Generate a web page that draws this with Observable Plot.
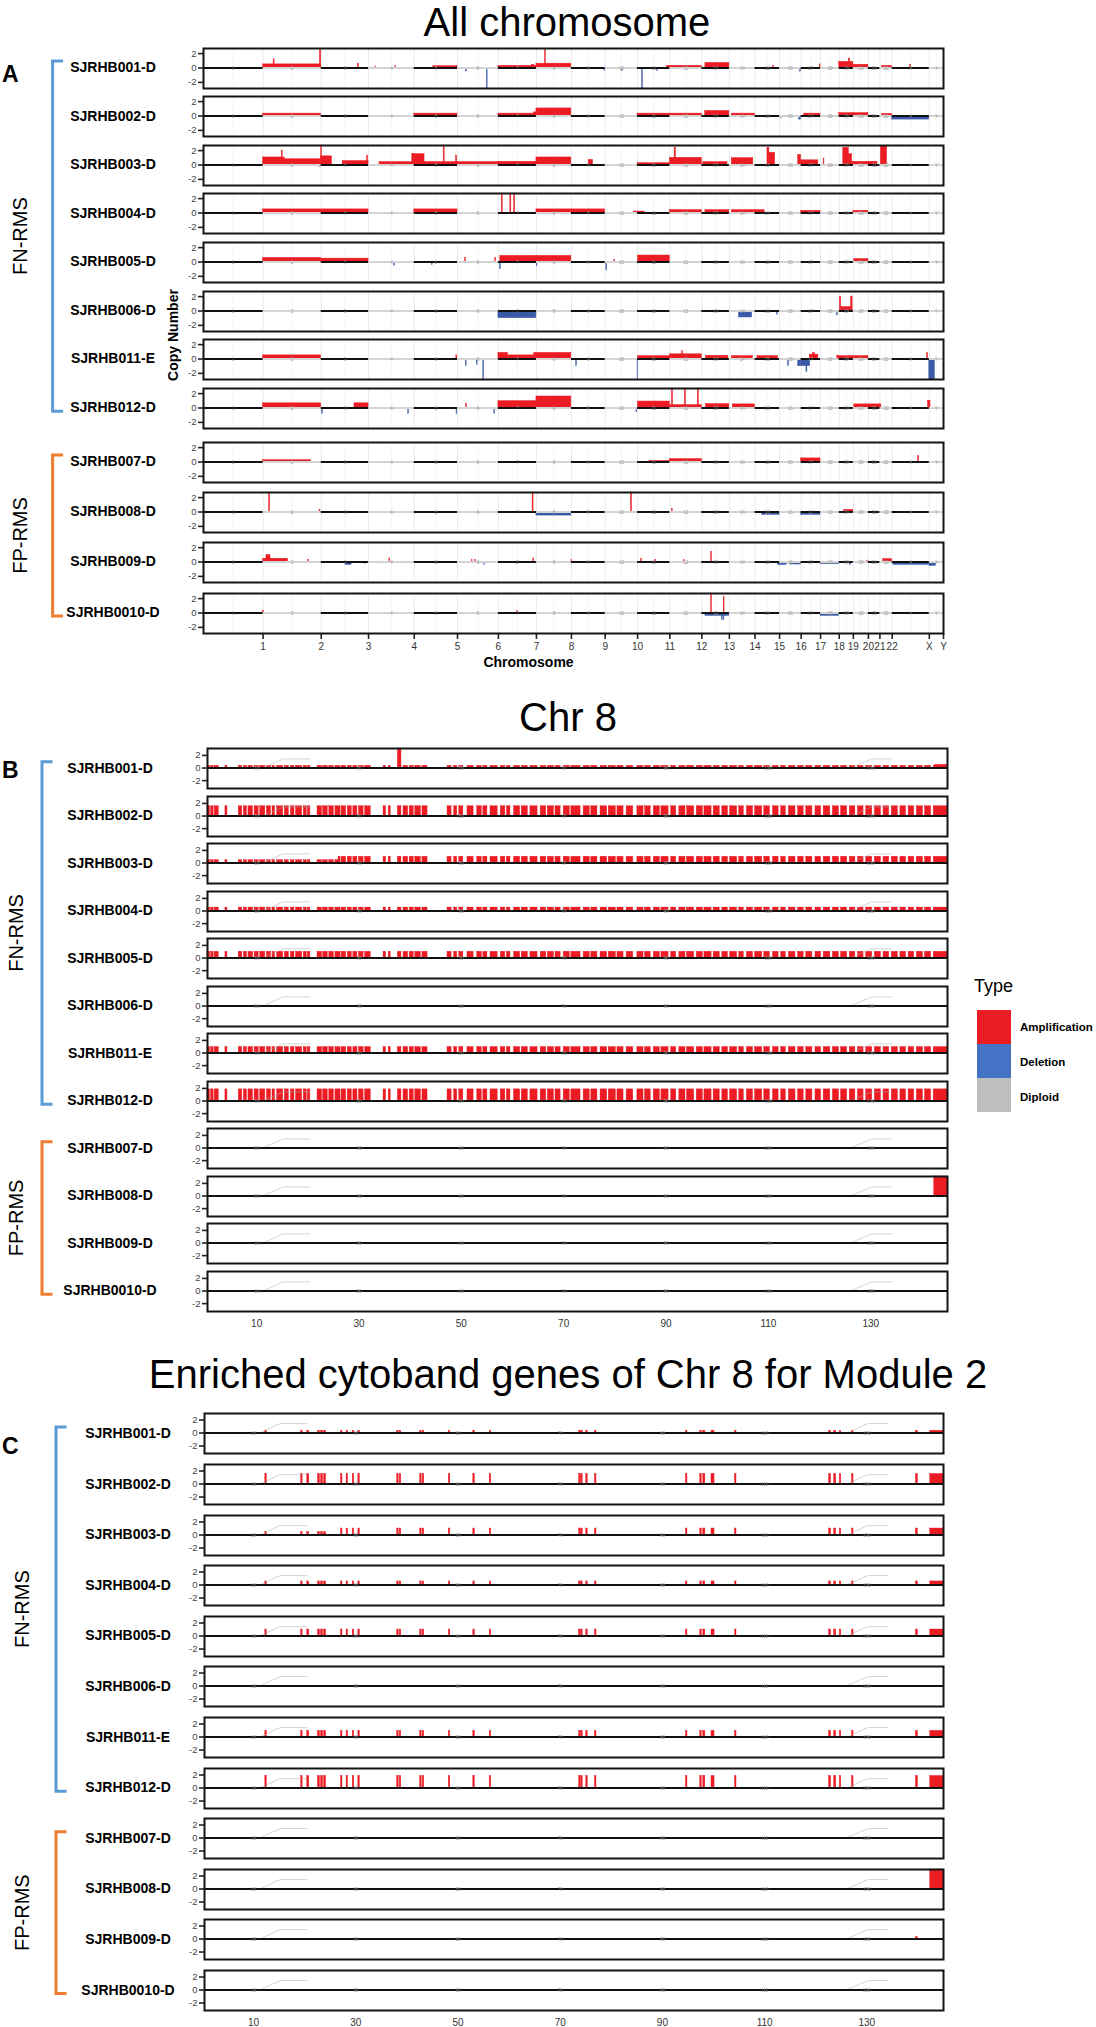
<!DOCTYPE html>
<html>
<head>
<meta charset="utf-8">
<script src="https://cdn.jsdelivr.net/npm/d3@7"></script>
<script src="https://cdn.jsdelivr.net/npm/@observablehq/plot@0.6"></script>
<style>
  html, body { margin: 0; padding: 0; background: #fff; }
  #page { position: relative; width: 1096px; height: 2027px; overflow: hidden; background: #fff;
          font-family: "Liberation Sans", Arial, Helvetica, sans-serif; color: #000; }
  #page svg { position: absolute; }
</style>
</head>
<body>
<div id="page"></div>
<script>
// ===================== DATA =====================
const chromosomes = ["1","2","3","4","5","6","7","8","9","10","11","12","13","14","15","16","17","18","19","20","21","22","X","Y"];
const chrLengthsMb = [249.3,243.2,198.0,191.2,180.9,171.1,159.1,146.4,141.2,135.5,135.0,133.9,115.2,107.3,102.5,90.4,81.2,78.1,59.1,63.0,48.1,51.3,155.3,59.4];

const samples = ["SJRHB001-D","SJRHB002-D","SJRHB003-D","SJRHB004-D","SJRHB005-D","SJRHB006-D","SJRHB011-E","SJRHB012-D","SJRHB007-D","SJRHB008-D","SJRHB009-D","SJRHB0010-D"];
const groupNames = ["FN-RMS","FP-RMS"];

const typeNames = ["Amplification","Deletion","Diploid"];
const typeColors = ["#ec1c24","#4472c4","#bebebe"];

// Panel A: whole-genome copy-number segments [chromosome, start Mb, end Mb, copy number]
const a001 = [["2",0,243,0.5],["2",44,48,1.2],["2",238,243,2.9],["3",153,157,0.6],["4",28,31,0.2],["4",112,115,0.25],["5",80,181,0.25],["6",36,39,-0.5],["6",123,126,-2.9],["7",0,159,0.3],["7",140,150,0.45],["8",0,146,0.6],["8",36,39,2.9],["9",138,141,-0.4],["10",70,73,-0.4],["11",19,22,-2.9],["11",82,85,-0.4],["11",123,135,0.3],["12",0,134,0.3],["13",15,115,0.7],["15",76,79,0.3],["16",86,89,-0.5],["17",78,81,0.5],["19",0,59,0.85],["19",40,46,1.3],["20",0,63,0.45],["22",10,51,0.3],["X",75,78,0.4]];
const a002 = [["2",0,243,0.33],["5",0,181,0.33],["7",0,159,0.33],["7",148,159,0.5],["8",0,146,1.05],["11",0,135,0.33],["12",0,134,0.33],["13",14,115,0.7],["14",10,107,0.33],["16",6,9,-0.3],["16",82,90,-0.5],["17",13,81,0.33],["19",0,59,0.4],["20",0,63,0.4],["22",10,51,0.3],["X",0,155,-0.5]];
const a003 = [["2",0,90,1.05],["2",78,82,2.0],["2",90,243,0.8],["2",238,241,-0.3],["3",0,3,2.9],["3",0,45,1.2],["3",90,198,0.55],["3",192,196,1.3],["4",46,183,0.4],["4",183,191,1.5],["5",0,43,1.5],["5",43,181,0.4],["5",123,127,2.9],["5",175,179,1.3],["6",0,171,0.4],["7",0,159,0.45],["8",0,146,1.05],["9",72,90,0.7],["11",0,135,0.25],["12",0,134,1.0],["12",20,25,2.4],["13",6,107,0.4],["14",10,100,0.95],["15",52,60,2.4],["15",60,84,1.7],["16",78,90,1.4],["17",0,72,0.65],["18",13,16,0.9],["19",17,40,2.4],["19",40,54,1.5],["19",54,59,0.45],["20",0,63,0.45],["21",0,38,0.45],["22",4,30,2.6]];
const a004 = [["2",0,243,0.5],["3",0,198,0.5],["5",0,181,0.5],["7",14,18,2.9],["7",50,54,2.9],["7",66,70,2.9],["8",0,146,0.5],["9",0,141,0.5],["10",120,135,0.2],["11",0,30,0.2],["12",0,134,0.4],["13",15,115,0.4],["14",10,107,0.4],["15",0,40,0.4],["17",0,81,0.3],["20",0,63,0.3]];
const a005 = [["2",0,243,0.56],["3",0,198,0.47],["4",107,110,-0.5],["5",74,77,-0.4],["6",32,35,0.6],["6",158,161,0.6],["7",7,10,-1.0],["7",8,159,0.85],["8",0,146,0.85],["8",1,4,-0.6],["10",5,8,-1.2],["10",38,41,0.3],["11",2,135,0.9],["20",4,63,0.4]];
const a006 = [["7",0,159,-1.0],["14",40,95,-0.9],["15",92,95,-0.5],["18",69,72,-0.6],["19",3,8,2.0],["19",8,50,0.55],["19",50,56,2.0]];
const a011 = [["2",0,243,0.5],["5",176,180,0.5],["6",35,38,-1.0],["6",81,84,-0.8],["6",108,111,-2.9],["7",0,40,0.85],["7",40,150,0.5],["7",150,159,0.85],["8",0,146,0.85],["9",20,23,-1.0],["11",0,2,-2.9],["11",2,135,0.4],["12",0,134,0.65],["12",52,55,1.1],["13",17,111,0.45],["14",10,99,0.4],["15",10,96,0.4],["16",36,39,-1.0],["16",78,90,-1.0],["17",0,38,-1.0],["17",22,26,-1.8],["17",36,72,0.6],["17",50,58,0.8],["18",70,78,0.4],["19",0,59,0.4],["20",0,63,0.4],["X",146,150,0.8],["Y",0,23,-2.9]];
const a012 = [["2",0,243,0.65],["3",4,7,-0.8],["3",139,198,0.65],["4",166,169,-0.8],["5",177,180,-0.8],["6",36,39,0.6],["6",154,157,-0.8],["7",0,159,0.95],["8",0,146,1.6],["10",131,134,-0.6],["11",2,135,0.9],["12",0,134,0.4],["12",9,13,2.9],["12",63,67,2.9],["12",117,121,2.9],["13",17,115,0.55],["14",14,107,0.5],["20",4,63,0.5],["21",0,48,0.5],["22",0,6,0.5],["X",150,155,1.0],["Y",0,5,1.0]];
const a007 = [["2",0,200,0.25],["11",50,135,0.15],["12",0,134,0.4],["17",0,81,0.5],["X",108,112,0.8]];
const a008 = [["2",25,29,2.9],["2",236,240,0.3],["7",143,147,2.9],["8",0,146,-0.5],["10",108,112,2.9],["12",9,12,0.4],["15",30,103,-0.4],["17",0,81,-0.4],["19",20,59,0.3]];
const a009 = [["2",0,104,0.45],["2",14,31,0.95],["2",188,191,0.3],["3",101,127,-0.4],["3",182,185,-0.3],["4",44,47,-0.2],["4",87,90,0.5],["4",154,157,-0.2],["6",60,63,0.3],["6",74,77,0.3],["6",112,115,-0.4],["7",79,82,-0.3],["7",146,149,0.5],["9",0,2,0.3],["11",15,18,0.4],["11",74,77,0.3],["12",58,61,0.3],["13",39,42,1.4],["15",96,103,-0.4],["16",0,30,-0.4],["16",45,90,-0.35],["18",0,78,-0.3],["19",46,49,-0.4],["20",57,60,0.2],["22",14,51,0.4],["X",5,155,-0.4],["Y",0,28,-0.55]];
const a0010 = [["2",0,3,0.3],["7",79,82,0.3],["13",15,115,-0.4],["13",84,87,-1.0],["13",91,94,-1.0],["13",39,42,2.9],["13",92,95,2.2],["18",0,78,-0.4]];

// Panel B: chromosome 8 gene intervals [start Mb, end Mb]
const chr8Genes = [[0.4,0.9],[1.1,1.6],[1.8,2.6],[3.9,4.3],[6.5,7.2],[7.5,8.1],[8.4,9.3],[9.6,10.4],[10.7,11.7],
  [12,12.8],[13.1,13.6],[14,15.2],[15.5,16.3],[16.7,17.4],[17.7,18.9],[19.2,19.8],[20,20.5],
  [21.9,22.8],[23,23.9],[24.2,25.1],[25.4,26.4],[26.6,27.5],[27.8,28.6],[28.9,29.7],[30,30.9],[31.2,32.3],
  [34.8,35.3],[35.8,36.2],[37.6,38.3],[38.7,39.6],[39.9,40.7],[41,42.1],[42.4,43.4],
  [47.3,48.1],[48.6,49.2],[49.6,50.4],[51.2,52.4],[53.1,54],[54.3,55.1],[55.7,57.1],[57.7,58.6],[58.9,59.6],
  [60.3,61.5],[61.8,63],[63.5,64.9],[65.5,66.6],[66.9,68.1],[68.4,69.4],[70,71.2],[71.5,73.3],[73.9,75.1],
  [75.4,76.6],[77.2,78.5],[78.8,80.2],[80.5,81.7],[82.3,83.6],[84.4,85.6],[85.9,87],
  [87.6,88.8],[89.1,90.5],[91,92],[92.6,93.8],[94.1,95.5],[96,97.2],[97.5,98.9],[99.3,100.5],[101,102.1],
  [102.5,103.9],[104.3,105.2],[105.8,107],[107.4,108.8],[109.2,110.3],[110.9,112],[112.5,113.4],[114,115.3],
  [115.8,116.9],[117.4,118.6],[119.2,120.3],[120.8,122.1],[122.6,123.8],[124.2,125.4],[125.9,127],[127.5,128.6],
  [129.1,130.3],[130.8,132],[132.5,133.6],[134.1,135.3],[135.8,136.9],[137.4,138.5],[139,140.2],[140.6,141.8],[142.3,145]];
// per-sample chr8 copy-number segments [start Mb, end Mb, copy number]
const b001 = [[0,146,0.35],[37.6,38.3,3.2],[142.5,145,0.5]];
const b002 = [[0,146,1.55]];
const b003 = [[0,26,0.45],[26,146,1.0]];
const b004 = [[0,146,0.55]];
const b005 = [[0,146,1.0]];
const b006 = [];
const b011 = [[0,146,0.95]];
const b012 = [[0,146,1.85]];
const b007 = [];
const b008 = [[142.4,145,3.2]];
const b009 = [];
const b0010 = [];

// Panel C: enriched cytoband genes of chr8 (module 2)
const module2Genes = [[12.3,12.6],[19.3,19.6],[20.5,20.9],[22.6,23.0],[23.2,23.6],[23.8,24.2],[27.1,27.4],[28.2,28.5],[29.4,29.7],[30.5,30.8],[38.1,38.4],[38.6,38.9],[42.6,42.9],[43.1,43.4],[48.2,48.5],[53,53.3],[56.2,56.5],[73.7,74.0],[74.1,74.4],[75.1,75.4],[76.8,77.1],[94.6,94.9],[97.4,97.7],[98.0,98.4],[99.6,100.2],[104.2,104.5],[122.6,123],[123.6,124],[124.7,125],[127.1,127.4],[139.6,140],[142.4,145]];
const c001 = [[0,146,0.35]];
const c002 = [[0,146,1.55]];
const c003 = [[0,26,0.45],[26,146,1.0]];
const c004 = [[0,146,0.55]];
const c005 = [[0,146,1.0]];
const c006 = [];
const c011 = [[0,146,0.95]];
const c012 = [[0,146,1.85]];
const c007 = [];
const c008 = [[142.4,145,3.1]];
const c009 = [[139.6,140,0.3]];
const c0010 = [];

const chr8Ticks = [10,30,50,70,90,110,130];
// callout leader lines of the chr8 gene annotations [x from, y from, x to, y to]
const chr8Callouts = [[11.6,0.15,15.2,1.45],[15.2,1.45,20.5,1.45],[126.4,0.15,130.2,1.45],[130.2,1.45,134.2,1.45]];

// ===================== BUILD =====================
const FONT = '"Liberation Sans", Arial, Helvetica, sans-serif';
const RED = "#ec1c24", BLUE = "#3a5aa8";
const page = document.getElementById("page");

const segA = [a001,a002,a003,a004,a005,a006,a011,a012,a007,a008,a009,a0010];
const segB = [b001,b002,b003,b004,b005,b006,b011,b012,b007,b008,b009,b0010];
const segC = [c001,c002,c003,c004,c005,c006,c011,c012,c007,c008,c009,c0010];

const chrStart = {};
const chrTable = [];
let acc = 0;
chromosomes.forEach((c, i) => { chrStart[c] = acc; chrTable.push({chr: c, i, x1: acc, x2: acc + chrLengthsMb[i], mid: acc + chrLengthsMb[i] / 2}); acc += chrLengthsMb[i]; });
const genomeLen = acc;
const chrEnds = chrTable.map(d => d.x2);
const chrLabelAt = new Map(chrTable.map(d => [d.x2, d.chr]));
const chrMinor = chrTable.map((d, i) => i === 0 ? d.x2 / 2 : (chrTable[i-1].x2 + d.x2) / 2);

// layout (pixels)
const aZero = [67,115.5,164,212.5,261,310,358,407.3,461,511,561,612];
const bZero = samples.map((s, i) => 767.7 + i * 47.5);
const cZero = samples.map((s, i) => 1433 + i * 50.6);

function clampV(v, dom) { return Math.max(dom[0], Math.min(dom[1], v)); }

function makeRow({left, zero, width, yDomain, xDomain, marks, axisX}) {
  const H = 40;
  const frameTop = zero - H * yDomain[1] / (yDomain[1] - yDomain[0]);
  const ML = 36, MR = 4, MT = 4, MB = axisX ? 34 : 4;
  const chart = Plot.plot({
    width: width + ML + MR,
    height: H + MT + MB,
    marginLeft: ML, marginRight: MR, marginTop: MT, marginBottom: MB,
    style: {fontFamily: FONT, background: "none", overflow: "visible"},
    x: {domain: xDomain, axis: null},
    y: {domain: yDomain, axis: null},
    marks: [
      ...marks,
      Plot.axisY({ticks: [-2, 0, 2], tickFormat: d => String(d), label: null, tickSize: 5, tickPadding: 2, fontSize: 9.5, stroke: "#222", fill: "#444", strokeWidth: 1.6}),
      ...(axisX ? [axisX] : []),
      Plot.frame({stroke: "#141414", strokeWidth: 2})
    ]
  });
  chart.style.left = (left - ML) + "px";
  chart.style.top = (frameTop - MT) + "px";
  page.appendChild(chart);
}

// ---- overlay (titles, labels, brackets, legend) ----
const ov = d3.select(page).append("svg").attr("width", 1096).attr("height", 2027)
  .style("left", "0px").style("top", "0px").style("font-family", FONT);

function txt(s, x, y, opt = {}) {
  const t = ov.append("text").attr("x", x).attr("y", y).text(s)
    .attr("font-size", opt.size || 14).attr("font-weight", opt.weight || "normal")
    .attr("text-anchor", opt.anchor || "middle").attr("fill", opt.fill || "#000");
  if (opt.central) t.attr("dominant-baseline", "central");
  if (opt.rotate) t.attr("transform", `rotate(${opt.rotate},${x},${y})`);
  return t;
}

txt("All chromosome", 567, 36, {size: 40});
txt("Chr 8", 568, 731, {size: 40});
txt("Enriched cytoband genes of Chr 8 for Module 2", 568, 1388, {size: 40});
txt("A", 2, 82, {size: 23, weight: "bold", anchor: "start"});
txt("B", 2, 778, {size: 23, weight: "bold", anchor: "start"});
txt("C", 2, 1454, {size: 23, weight: "bold", anchor: "start"});
txt("Copy Number", 173, 335, {size: 14, weight: "bold", rotate: -90, central: true});
txt("Chromosome", 528.5, 667, {size: 14, weight: "bold"});

function brackets(zeros, lineX, labelX, labelCx) {
  const groups = [[0, 7, "#5b9bd5"], [8, 11, "#ed7d31"]];
  groups.forEach(([a, b, col], gi) => {
    const y1 = zeros[a] - 6, y2 = zeros[b] + 4;
    ov.append("path").attr("d", `M${lineX + 10.5},${y1}H${lineX}V${y2}H${lineX + 10.5}`)
      .attr("fill", "none").attr("stroke", col).attr("stroke-width", 3);
    txt(groupNames[gi], labelX, (y1 + y2) / 2, {size: 20, rotate: -90, central: true});
  });
  samples.forEach((s, i) => txt(s, labelCx, zeros[i], {size: 14, weight: "bold", central: true}));
}
brackets(aZero, 52.6, 20, 113);
brackets(bZero, 42, 16, 110);
brackets(cZero, 56, 22, 128);

// legend
txt("Type", 974, 992, {size: 18, anchor: "start"});
typeNames.forEach((n, i) => {
  ov.append("rect").attr("x", 977).attr("y", 1010 + i * 34).attr("width", 34).attr("height", 34).attr("fill", typeColors[i]);
  txt(n, 1020, 1027 + i * 35, {size: 11.5, weight: "bold", anchor: "start", central: true});
});

// ---- Panel A rows ----
const yDomA = [-2.85, 2.71];
samples.forEach((s, i) => {
  const rows = segA[i].map(([c, st, en, v]) => ({x1: chrStart[c] + st, x2: chrStart[c] + en, v: clampV(v, yDomA)}));
  const marks = [
    Plot.ruleX(chrMinor, {stroke: "#f0f0f0", strokeWidth: 0.6}),
    Plot.ruleX(chrEnds, {stroke: "#e8e8e8", strokeWidth: 0.9}),
    Plot.rect(rows.filter(d => d.v > 0), {x1: "x1", x2: "x2", y1: 0, y2: "v", fill: RED, stroke: RED, strokeWidth: 0.5}),
    Plot.rect(rows.filter(d => d.v < 0), {x1: "x1", x2: "x2", y1: 0, y2: "v", fill: BLUE, stroke: BLUE, strokeWidth: 0.5}),
    Plot.ruleY(chrTable.filter(d => d.i % 2 === 1), {y: 0, x1: "x1", x2: "x2", stroke: "#d4d4d4", strokeWidth: 2}),
    Plot.ruleY(chrTable.filter(d => d.i % 2 === 0), {y: 0, x1: "x1", x2: "x2", stroke: "#111", strokeWidth: 2}),
    Plot.text(chrTable, {x: "mid", y: 0, text: "chr", fontSize: 4.5, fill: "#9a9a9a", dy: 1})
  ];
  const axisX = i === samples.length - 1 ? Plot.axisX({ticks: chrEnds, tickFormat: d => chrLabelAt.get(d), label: null, tickSize: 6, tickPadding: 3, fontSize: 10, stroke: "#222", fill: "#333", strokeWidth: 1.6}) : null;
  makeRow({left: 203, zero: aZero[i], width: 740, yDomain: yDomA, xDomain: [0, genomeLen], marks, axisX});
});

// ---- Chr 8 rows (B and C) ----
function geneBars(genes, segs, dom) {
  const out = [];
  segs.forEach(([s, e, v]) => {
    genes.forEach(([gs, ge]) => {
      const a = Math.max(s, gs), b = Math.min(e, ge);
      if (b > a) out.push({x1: a, x2: b, v: clampV(v, dom)});
    });
  });
  return out;
}
function chr8Panel(zeros, left, width, yDom, genes, segs) {
  samples.forEach((s, i) => {
    const bars = geneBars(genes, segs[i], yDom);
    const marks = [
      Plot.rect(bars, {x1: "x1", x2: "x2", y1: 0, y2: "v", fill: RED, stroke: RED, strokeWidth: 0.4}),
      Plot.link(chr8Callouts, {x1: d => d[0], y1: d => d[1], x2: d => d[2], y2: d => d[3], stroke: "#a8a8a8", strokeWidth: 0.5}),
      Plot.ruleY([0], {stroke: "#111", strokeWidth: 2}),
      Plot.text(chr8Ticks, {x: d => d, y: 0, text: d => String(d), fontSize: 4.5, fill: "#a0a0a0", dy: 1})
    ];
    const axisX = i === samples.length - 1 ? Plot.axisX({ticks: chr8Ticks, label: null, tickSize: 0, tickPadding: 8, fontSize: 10, fill: "#333"}) : null;
    makeRow({left, zero: zeros[i], width, yDomain: yDom, xDomain: [0.4, 145], marks, axisX});
  });
}
chr8Panel(bZero, 207, 740, [-3.25, 3.1], chr8Genes, segB);
chr8Panel(cZero, 204, 739, [-3.15, 3.0], module2Genes, segC);
</script>
</body>
</html>
